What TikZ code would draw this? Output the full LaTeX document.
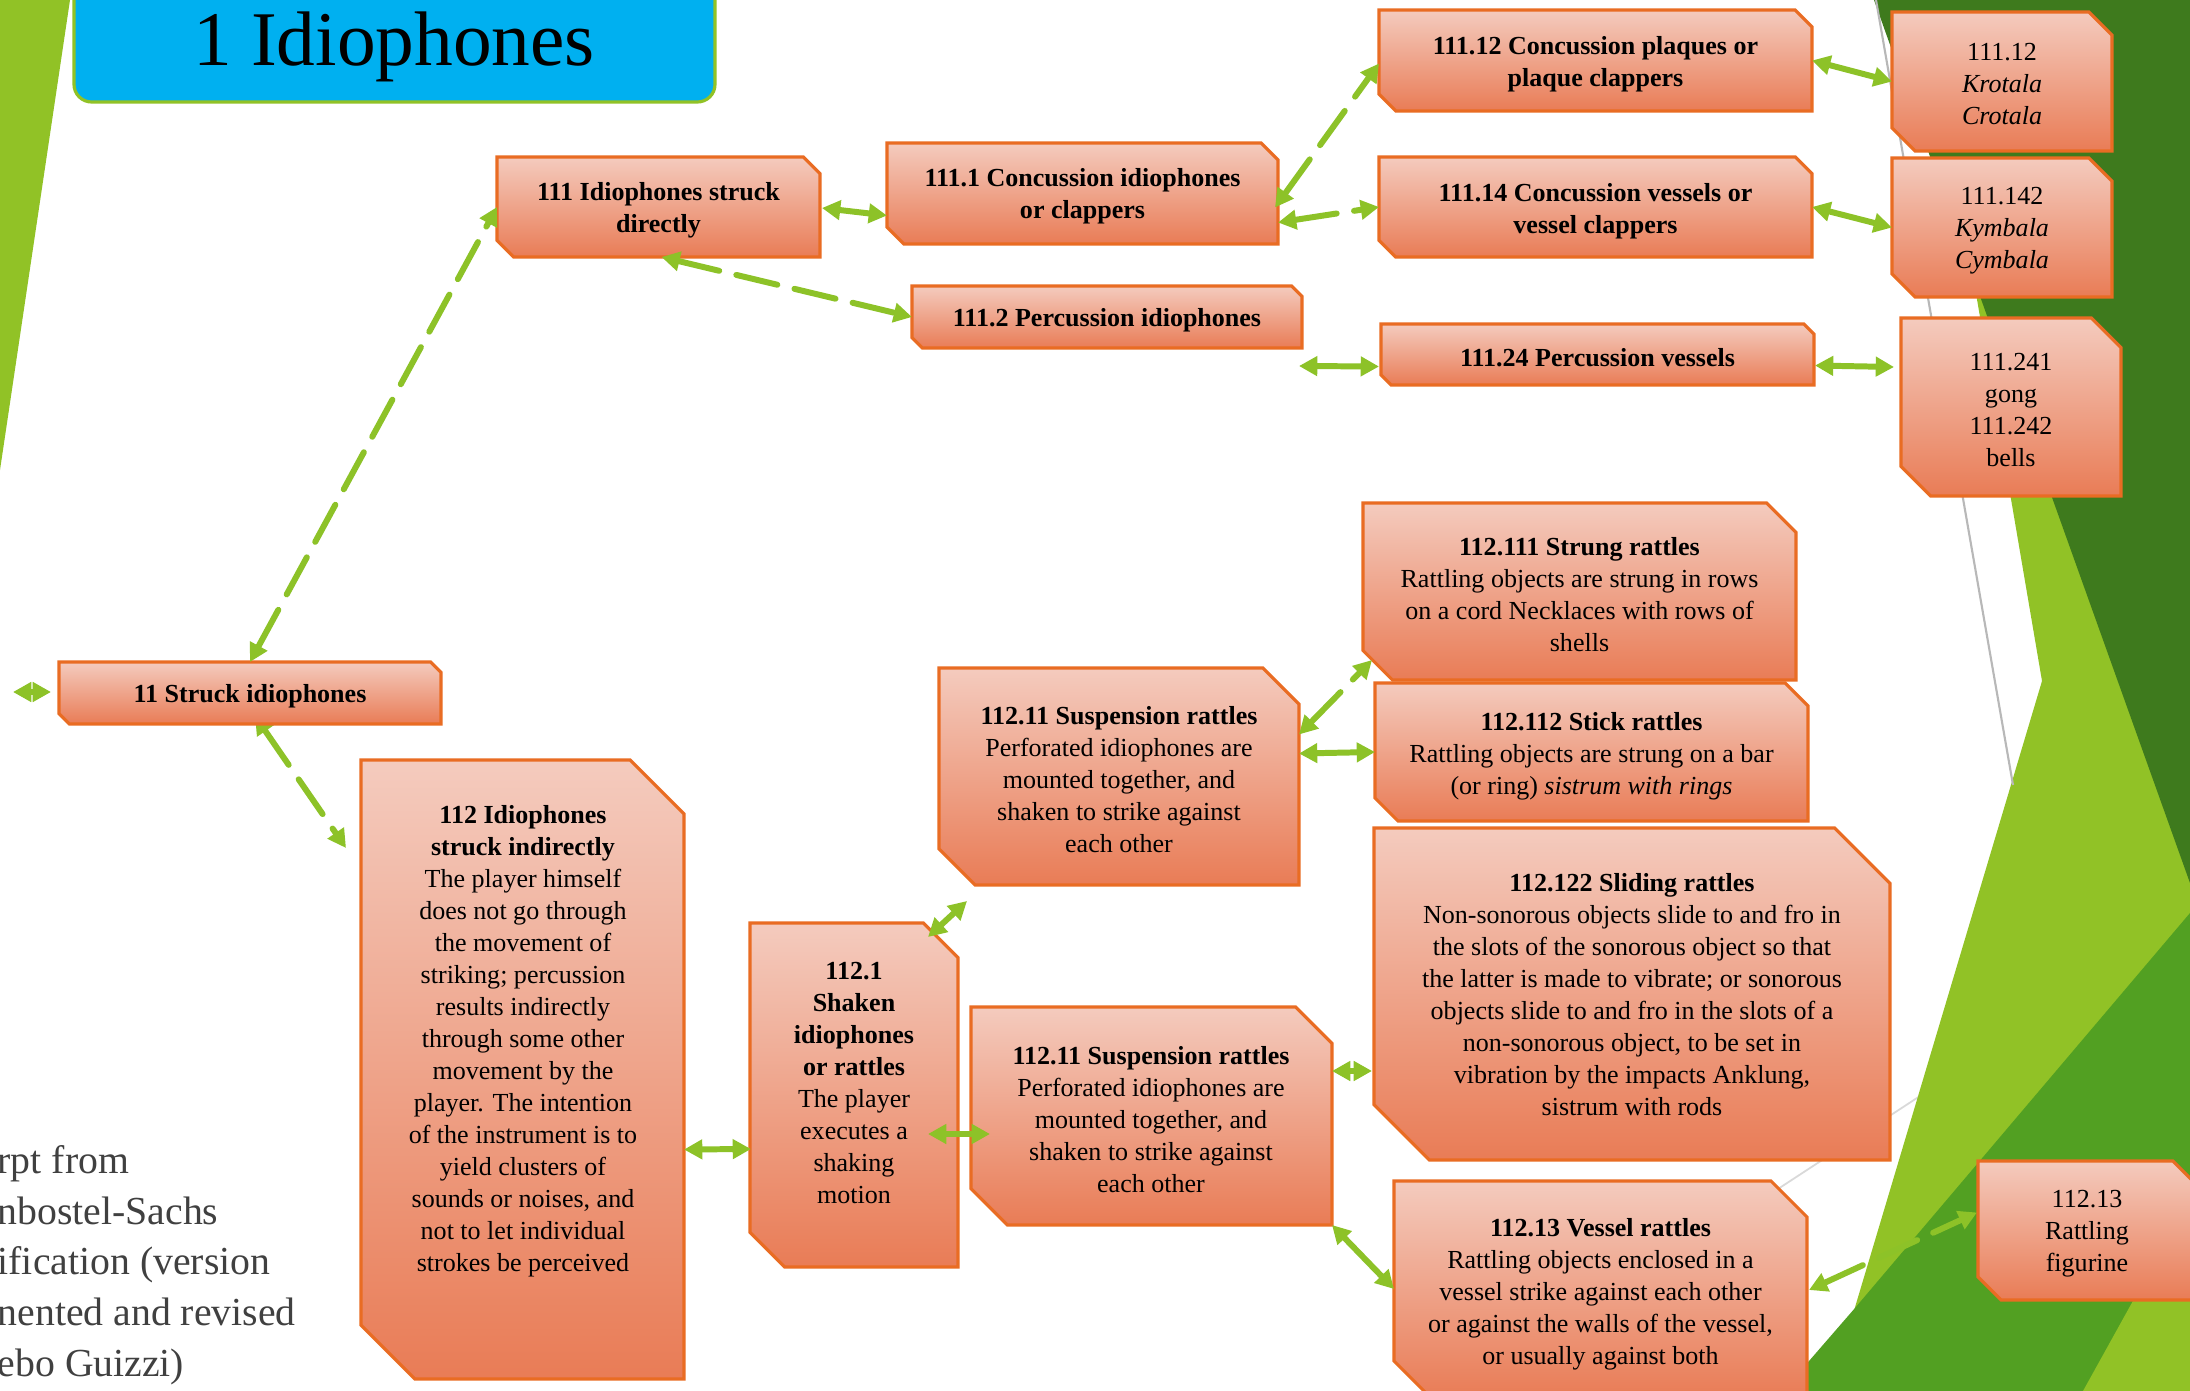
\documentclass[tikz,border=0pt]{standalone}
\usepackage{fontspec}
\IfFontExistsTF{Liberation Serif}{\setmainfont{Liberation Serif}}{\setmainfont{Latin Modern Roman}}
\usetikzlibrary{arrows.meta,calc,fit}
\pgfdeclarelayer{bglayer}
\pgfdeclarelayer{behind}
\pgfsetlayers{bglayer,behind,main}
\definecolor{boxtop}{RGB}{244,203,190}
\definecolor{boxbot}{RGB}{233,124,86}
\definecolor{boxline}{RGB}{233,108,35}
\definecolor{agreen}{RGB}{141,194,40}
\definecolor{lgreen}{RGB}{145,194,38}
\definecolor{dgreen}{RGB}{62,122,29}
\definecolor{mgreen}{RGB}{82,160,34}
\definecolor{tblue}{RGB}{0,176,240}
\definecolor{sidetext}{RGB}{64,64,64}
\newcommand\snipbox[5]{%
  \pgfmathsetmacro\snipw{#4-#2}%
  \pgfmathsetmacro\sniph{#5-#3}%
  \pgfmathsetmacro\snipc{min(\snipw,\sniph)/6}%
  \shadedraw[boxshade] (#2,#3) -- ({#4-\snipc},#3) -- (#4,{#3+\snipc}) -- (#4,#5) -- ({#2+\snipc},#5) -- (#2,{#5-\snipc}) -- cycle;
  \node[fit={(#2,#3) (#4,#5)},inner sep=0pt,outer sep=0pt] (#1) {};
}
\begin{document}
\begin{tikzpicture}[x=0.01cm,y=-0.01cm,
  boxshade/.style={top color=boxtop,bottom color=boxbot,draw=boxline,line width=0.9pt},
  txt/.style={align=center,inner sep=0pt,yshift=-0.8pt,font=\fontsize{7.4}{9.1}\selectfont},
  conn/.style={draw=agreen,line width=1.7pt,line cap=round,{Triangle[length=5.2pt,width=5.4pt]}-{Triangle[length=5.2pt,width=5.4pt]}},
  dconn/.style={conn,dash pattern=on 12pt off 5pt}]
\useasboundingbox (0,0) rectangle (2190,1391);
\clip (0,0) rectangle (2190,1391);
% background
\begin{pgfonlayer}{bglayer}
\fill[white] (0,0) rectangle (2190,1391);
\fill[lgreen] (0,0) -- (70,0) -- (0,470) -- cycle;
\draw[black!15,line width=0.5pt] (1700,1240) -- (1920,1096);
\fill[lgreen] (1926,0) -- (2042,681) -- (1830,1391) -- (2190,1391) -- (2190,0) -- cycle;
\fill[dgreen] (1874,0) -- (2190,0) -- (2190,883) -- cycle;
\draw[black!28,line width=0.6pt] (1876,0) -- (2013,785);
\fill[mgreen] (1783,1391) -- (1855,1308) -- (2190,913) -- (2190,1391) -- cycle;
\fill[lgreen] (2083,1391) -- (2190,1198) -- (2190,1391) -- cycle;
\end{pgfonlayer}
% title
\node[draw=lgreen,line width=0.9pt,fill=tblue,rounded corners=5pt,fit={(74,-30) (715,102)},inner sep=0pt] (title) {};
\node[anchor=base,inner sep=0pt,font=\fontsize{22}{26}\selectfont] (titletext) at (394,66) {1 Idiophones};
% boxes
\snipbox{n111}{497}{157}{820}{257}
\snipbox{n1111}{887}{143}{1278}{244}
\snipbox{n1112}{912}{286}{1302}{348}
\snipbox{n11112}{1379}{10}{1812}{111}
\snipbox{n11114}{1379}{157}{1812}{257}
\snipbox{n11124}{1381}{324}{1814}{385}
\snipbox{nkro}{1892}{12}{2112}{151}
\snipbox{nkym}{1892}{158}{2112}{297}
\snipbox{ngong}{1901}{318}{2121}{496}
\snipbox{n11}{59}{662}{441}{724}
\snipbox{n112}{361}{760}{684}{1379}
\snipbox{n1121}{750}{923}{958}{1267}
\snipbox{nsusa}{939}{668}{1299}{885}
\snipbox{nsusb}{971}{1007}{1332}{1225}
\snipbox{nstrung}{1363}{503}{1796}{680}
\snipbox{nstick}{1375}{683}{1808}{821}
\snipbox{nslide}{1374}{828}{1890}{1160}
\snipbox{nvessel}{1394}{1181}{1807}{1397}
\snipbox{nfig}{1978}{1161}{2196}{1300}
% texts
\node[txt] (t111) at (658.5,207) {\textbf{111 Idiophones struck}\\\textbf{directly}};
\node[txt] (t1111) at (1082.5,193.5) {\textbf{111.1 Concussion idiophones}\\\textbf{or clappers}};
\node[txt] (t1112) at (1107,317) {\textbf{111.2 Percussion idiophones}};
\node[txt] (t11112) at (1595.5,61) {\textbf{111.12 Concussion plaques or}\\\textbf{plaque clappers}};
\node[txt] (t11114) at (1595.5,208) {\textbf{111.14 Concussion vessels or}\\\textbf{vessel clappers}};
\node[txt] (t11124) at (1597.5,355) {\textbf{111.24 Percussion vessels}};
\node[txt] (tkro) at (2002,81.5) {111.12\\\textit{Krotala}\\\textit{Crotala}};
\node[txt] (tkym) at (2002,227.5) {111.142\\\textit{Kymbala}\\\textit{Cymbala}};
\node[txt] (tgong) at (2011,407) {111.241\\gong\\111.242\\bells};
\node[txt] (t11) at (250,693) {\textbf{11 Struck idiophones}};
\node[txt] (t112) at (523,1038) {\textbf{112 Idiophones}\\\textbf{struck indirectly}\\The player himself\\does not go through\\the movement of\\striking; percussion\\results indirectly\\through some other\\movement by the\\player. The intention\\of the instrument is to\\yield clusters of\\sounds or noises, and\\not to let individual\\strokes be perceived};
\node[txt] (t1121) at (854,1080) {\textbf{112.1}\\\textbf{Shaken}\\\textbf{idiophones}\\\textbf{or rattles}\\The player\\executes a\\shaking\\motion};
\node[txt] (tsusa) at (1119,777) {\textbf{112.11 Suspension rattles}\\Perforated idiophones are\\mounted together, and\\shaken to strike against\\each other};
\node[txt] (tsusb) at (1151,1117) {\textbf{112.11 Suspension rattles}\\Perforated idiophones are\\mounted together, and\\shaken to strike against\\each other};
\node[txt] (tstrung) at (1579.5,592) {\textbf{112.111 Strung rattles}\\Rattling objects are strung in rows\\on a cord Necklaces with rows of\\shells};
\node[txt] (tstick) at (1591.5,753) {\textbf{112.112 Stick rattles}\\Rattling objects are strung on a bar\\(or ring) \textit{sistrum with rings}};
\node[txt] (tslide) at (1632,992) {\textbf{112.122 Sliding rattles}\\Non-sonorous objects slide to and fro in\\the slots of the sonorous object so that\\the latter is made to vibrate; or sonorous\\objects slide to and fro in the slots of a\\non-sonorous object, to be set in\\vibration by the impacts Anklung,\\sistrum with rods};
\node[txt] (tvessel) at (1600.5,1291) {\textbf{112.13 Vessel rattles}\\Rattling objects enclosed in a\\vessel strike against each other\\or against the walls of the vessel,\\or usually against both};
\node[txt] (tfig) at (2087,1231) {112.13\\Rattling\\figurine};
\node[anchor=north west,align=left,inner sep=0pt,text=sidetext,font=\fontsize{11.3}{14.4}\selectfont] (excerpt) at (-3,1145) {rpt from\\nbostel-Sachs\\ification (version\\nented and revised\\ebo Guizzi)};
% connectors
\begin{pgfonlayer}{behind}
\draw[dconn] ($(n11.south west)+(196,-8)$) -- ($(n112.north west)+(-15,88)$);
\end{pgfonlayer}
\draw[dconn] ($(n11.north west)+(191,0)$) -- (n111.west);
\draw[conn] ($(n111.east)+(2,1)$) -- ($(n1111.west)+(0,22)$);
\draw[dconn] ($(n111.south)+(3,0)$) -- (n1112.west);
\draw[dconn] ($(n1111.east)+(-3,14)$) -- ($(n11112.west)+(0,3)$);
\draw[dconn] ($(n1111.east)+(0,29)$) -- (n11114.west);
\draw[conn] ($(n1112.south east)+(-3,18)$) -- ($(n11124.west)+(-2,12)$);
\draw[conn] (n11112.east) -- (nkro.west);
\draw[conn] (n11114.east) -- (nkym.west);
\draw[conn] ($(n11124.east)+(1,11)$) -- ($(ngong.west)+(-7,-40)$);
\draw[conn] ($(n11.west)+(-46,-1)$) -- ($(n11.west)+(-8,-1)$);
\draw[conn] ($(n112.east)+(0,80)$) -- ($(n1121.west)+(1,54)$);
\draw[conn] ($(n1121.north east)+(-30,14)$) -- ($(nsusa.south west)+(28,16)$);
\draw[conn] ($(n1121.east)+(-30,39)$) -- ($(nsusb.west)+(19,18)$);
\draw[dconn] ($(nsusa.east)+(0,-42)$) -- ($(nstrung.south west)+(9,-20)$);
\draw[conn] ($(nsusa.east)+(0,-23)$) -- (nstick.west);
\draw[conn] ($(nsusb.east)+(0,-45)$) -- ($(nslide.west)+(-2,77)$);
\draw[conn] (nsusb.south east) -- (nvessel.west);
\draw[dconn] ($(nvessel.east)+(2,1)$) -- ($(nfig.west)+(-1,-18)$);
\end{tikzpicture}
\end{document}
